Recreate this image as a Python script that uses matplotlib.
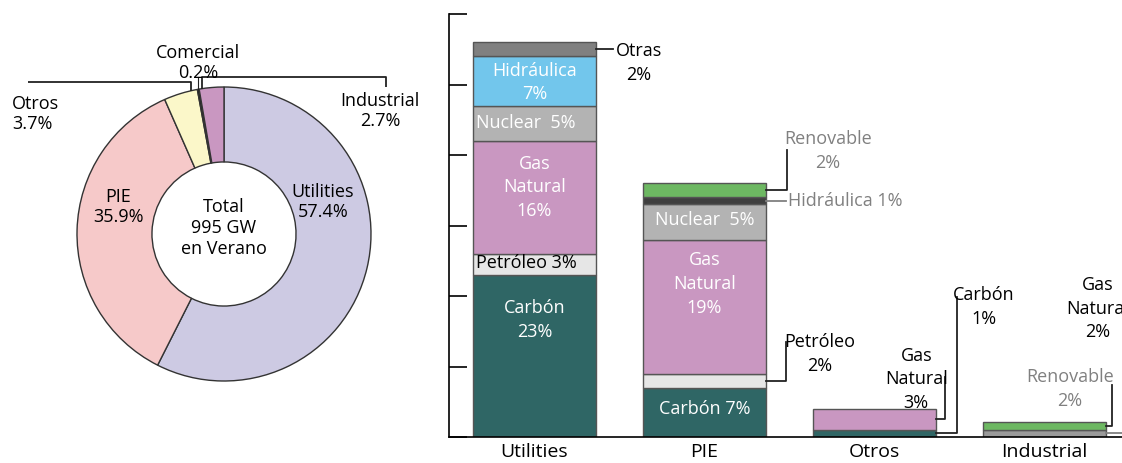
import numpy as np
import matplotlib
matplotlib.use("Agg")
import matplotlib.pyplot as plt

plt.rcParams['font.family'] = ['Open Sans', 'DejaVu Sans']

# donut: summer capacity by sector
donut_labels = ["Utilities", "PIE", "Otros", "Comercial", "Industrial"]
donut_pct = [57.4, 35.9, 3.7, 0.2, 2.7]
donut_colors = ["#cdcae3", "#f6c9c9", "#fbf7c9", "#111111", "#c997c1"]

# stacked bars: fuel mix per sector (% of total)
bar_groups = ["Utilities", "PIE", "Otros", "Industrial"]
utilities_vals = [23, 3, 16, 5, 7, 2]      # Carbón, Petróleo, Gas, Nuclear, Hidráulica, Otras
utilities_colors = ["#2f6665", "#e6e6e6", "#c997c1", "#b3b3b3", "#72c6ec", "#808080"]
pie_vals = [7, 2, 19, 5, 1, 2]             # Carbón, Petróleo, Gas, Nuclear, Hidráulica, Renovable
pie_colors = ["#2f6665", "#e6e6e6", "#c997c1", "#b3b3b3", "#3f3f3f", "#6db862"]
otros_vals = [1, 3]                        # Carbón, Gas
otros_colors = ["#2f6665", "#c997c1"]
industrial_vals = [1.0, 1.1]               # Gas, Renovable
industrial_colors = ["#9a9a9a", "#6db862"]

W, H = 1122, 463
fig = plt.figure(figsize=(W / 100, H / 100), dpi=100)

# ---------------- donut ----------------
cx, cy, R = 224, 234, 147
axp = fig.add_axes([0, 0, 440 / W, 1])
wedges, _ = axp.pie(donut_pct, colors=donut_colors, startangle=90, counterclock=False,
                    radius=1, wedgeprops=dict(width=0.51, edgecolor="#333333", linewidth=1))
axp.set_xlim(-cx / R, (440 - cx) / R)
axp.set_ylim(-(H - cy) / R, cy / R)
axp.set_aspect('auto')
axp.axis('off')

fs = 13
axp.text(0.673, 0.218, "Utilities\n57.4%", ha='center', va='center', fontsize=fs, linespacing=1.1)
axp.text(-0.721, 0.184, "PIE\n35.9%", ha='center', va='center', fontsize=fs, linespacing=1.1)
axp.text(0, 0.04, "Total\n995 GW\nen Verano", ha='center', va='center', fontsize=fs, linespacing=1.2)
axp.text(-1.442, 0.816, "Otros\n3.7%", ha='left', va='center', fontsize=fs, linespacing=1.1)
axp.text(-0.177, 1.163, "Comercial\n0.2%", ha='center', va='center', fontsize=fs, linespacing=1.1)
axp.text(1.061, 0.837, "Industrial\n2.7%", ha='center', va='center', fontsize=fs, linespacing=1.1)

def wedge_point(w, frac):
    a = np.deg2rad(w.theta1 + frac * (w.theta2 - w.theta1))
    return np.cos(a), np.sin(a)

lk = dict(color="#222222", lw=1.3, solid_capstyle='butt')
x, y = wedge_point(wedges[2], 0.2)
axp.plot([x, x, -1.333], [y, 1.034, 1.034], **lk)
x, y = wedge_point(wedges[3], 0.5)
axp.plot([x, x], [y, 1.068], color="#222222", lw=0.8)
x, y = wedge_point(wedges[4], 0.89)
axp.plot([x, x, 1.102, 1.102], [y, 1.068, 1.068, 1.0], **lk)

# ---------------- stacked bars ----------------
ax = fig.add_axes([449 / W, 1 - 437 / H, 1 - 449 / W, (437 - 14) / H])
xs = np.arange(len(bar_groups))
bw = 0.72
stacks = [(utilities_vals, utilities_colors), (pie_vals, pie_colors),
          (otros_vals, otros_colors), (industrial_vals, industrial_colors)]
for i, (vals, cols) in enumerate(stacks):
    bottom = 0
    for v, c in zip(vals, cols):
        ax.bar(xs[i], v, bw, bottom=bottom, color=c, edgecolor="#555555", linewidth=1)
        bottom += v

ax.set_xlim(-0.503, 3.456)
ax.set_ylim(0, 60)
ax.set_yticks(np.arange(0, 61, 10))
ax.tick_params(axis='y', direction='in', length=13, width=1.2, labelleft=False)
ax.set_xticks(xs)
ax.set_xticklabels(bar_groups, fontsize=14)
ax.tick_params(axis='x', length=0, pad=4)
for s in ['top', 'right']:
    ax.spines[s].set_visible(False)
ax.spines['left'].set_linewidth(1.2)
ax.spines['bottom'].set_linewidth(1.2)

wt = dict(ha='center', va='center', fontsize=fs, linespacing=1.4)
# labels inside bars
ax.text(0, 50.3, "Hidráulica\n7%", color='white', **wt)
ax.text(-0.05, 44.5, "Nuclear  5%", color='white', **wt)
ax.text(0, 35.4, "Gas\nNatural\n16%", color='white', **wt)
ax.text(-0.05, 24.7, "Petróleo 3%", color='black', **wt)
ax.text(0, 16.6, "Carbón\n23%", color='white', **wt)
ax.text(1, 30.8, "Nuclear  5%", color='white', **wt)
ax.text(1, 21.7, "Gas\nNatural\n19%", color='white', **wt)
ax.text(1, 4.0, "Carbón 7%", color='white', **wt)

# callouts outside bars
def seg_mid(vals, k):
    return sum(vals[:k]) + vals[k] / 2

lb = dict(color="#222222", lw=1.3, clip_on=False)
right = bw / 2
ym = seg_mid(utilities_vals, 5)
ax.plot([0 + right, 0.462], [ym, ym], **lb)
ax.text(0.615, 53.05, "Otras\n2%", **wt)

ym = seg_mid(pie_vals, 5)
ax.plot([1 + right, 1.485, 1.485], [ym, ym, 40.7], **lb)
ax.text(1.727, 40.6, "Renovable\n2%", color="#808080", **wt)
ym = seg_mid(pie_vals, 4)
ax.plot([1 + right, 1.48], [ym, ym], color="#808080", lw=1.3)
ax.text(1.49, ym, "Hidráulica 1%", color="#808080", ha='left', va='center', fontsize=fs)
ym = seg_mid(pie_vals, 1)
ax.plot([1 + right, 1.48, 1.48], [ym, ym, 13.5], **lb)
ax.text(1.68, 11.8, "Petróleo\n2%", **wt)

ym = seg_mid(otros_vals, 1)
ax.plot([2 + right, 2.415, 2.415], [ym, ym, 8.5], **lb)
ax.text(2.246, 8.2, "Gas\nNatural\n3%", **wt)
ym = seg_mid(otros_vals, 0)
ax.plot([2 + right, 2.485, 2.485], [ym, ym, 19.9], **lb)
ax.text(2.645, 18.4, "Carbón\n1%", **wt)

ym = seg_mid(industrial_vals, 1)
ax.plot([3 + right, 3.397, 3.397], [ym, ym, 7.4], **lb)
ax.text(3.15, 6.8, "Renovable\n2%", color="#808080", **wt)
ym = seg_mid(industrial_vals, 0)
ax.plot([3 + right, 3.46], [ym, ym], color="#808080", lw=1.3, clip_on=False)
# cut at the right edge, as in the source figure
ax.text(3.315, 18.2, "Gas\nNatural\n2%", **wt)

fig.savefig("out.png", dpi=100)
